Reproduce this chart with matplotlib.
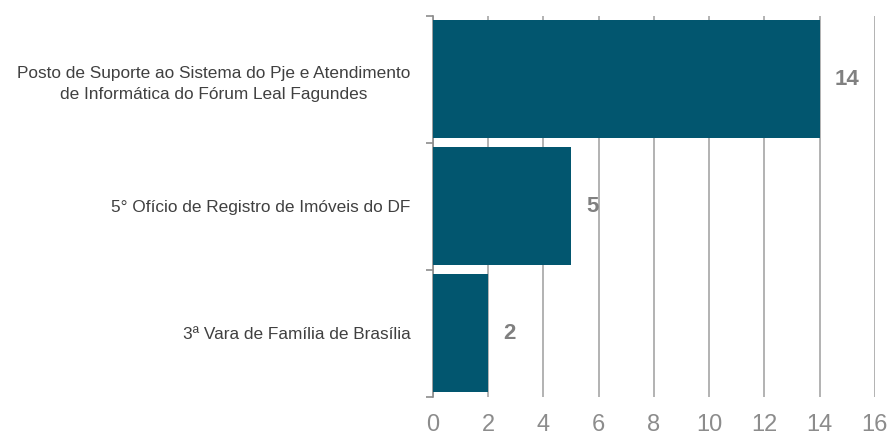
import matplotlib
matplotlib.use("Agg")
import matplotlib.pyplot as plt
import numpy as np

categories = [
    "Posto de Suporte ao Sistema do Pje e Atendimento\nde Informática do Fórum Leal Fagundes",
    "5° Ofício de Registro de Imóveis do DF",
    "3ª Vara de Família de Brasília",
]
values = [14, 5, 2]
xticks = [0, 2, 4, 6, 8, 10, 12, 14, 16]

plt.rcParams['font.family'] = ['Liberation Sans', 'DejaVu Sans']

fig = plt.figure(figsize=(8.9, 4.41), dpi=100)
ax = fig.add_axes([0.4865, 0.1, 0.4965, 0.864])

ypos = np.arange(len(categories))
bar_color = "#02566f"
ax.barh(ypos, values, height=0.93, color=bar_color, zorder=3)
ax.set_ylim(len(categories) - 0.5, -0.5)
ax.set_xlim(0, 16)

ax.set_xticks(xticks)
ax.set_xticklabels([str(t) for t in xticks], color="#8c8c8c", fontsize=17)
ax.tick_params(axis='x', length=0, pad=12)
ax.xaxis.grid(True, color="#a6a6a6", linewidth=1.2, zorder=0)

ax.set_yticks(ypos)
ax.set_yticklabels(categories, fontsize=12.4, color="#404040", linespacing=1.55,
                   multialignment='center')
ax.tick_params(axis='y', which='major', length=0, pad=16)
ax.set_yticks(np.arange(-0.5, len(categories), 1.0), minor=True)
ax.tick_params(axis='y', which='minor', length=5, color="#8c8c8c", width=1.2)

for s in ['top', 'right', 'bottom']:
    ax.spines[s].set_visible(False)
ax.spines['left'].set_color("#8c8c8c")
ax.spines['left'].set_linewidth(1.2)

for y, v in zip(ypos, values):
    ax.text(v + 0.55, y, str(v), va='center', ha='left', fontsize=16,
            fontweight='bold', color="#808080")

fig.savefig("out.png", dpi=100)
